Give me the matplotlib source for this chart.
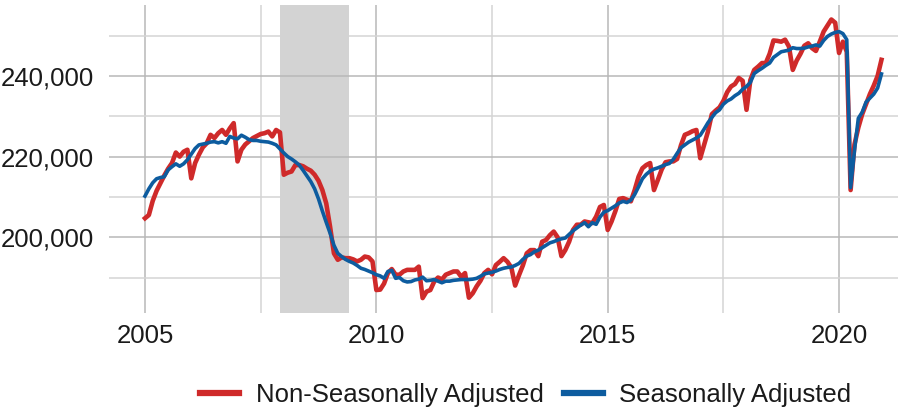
import matplotlib

matplotlib.use("Agg")
import matplotlib.pyplot as plt
import numpy as np
from matplotlib.ticker import FixedLocator, FuncFormatter

# monthly values, Jan 2005 .. Dec 2020 (thousands)
nsa = [
    204.7, 205.5, 209.0, 211.5, 213.4, 215.3, 217.0, 218.4, 221.0, 220.0, 221.2, 221.7,  # 2005
    214.6, 218.4, 220.5, 222.3, 223.3, 225.4, 224.6, 225.8, 226.6, 225.4, 227.0, 228.3,  # 2006
    218.8, 221.7, 223.0, 223.8, 224.6, 225.1, 225.6, 225.8, 226.2, 225.0, 226.6, 226.0,  # 2007
    215.5, 216.0, 216.3, 217.9, 217.9, 217.6, 217.0, 216.5, 215.5, 214.0, 211.7, 208.4,  # 2008
    202.6, 196.0, 194.4, 195.0, 194.8, 194.8, 194.5, 194.0, 194.4, 195.2, 195.0, 194.0,  # 2009
    186.9, 187.0, 188.5, 191.1, 192.1, 190.7, 190.7, 191.5, 191.9, 191.9, 191.9, 192.7,  # 2010
    184.9, 186.5, 186.9, 189.0, 190.0, 189.5, 190.7, 191.1, 191.5, 191.5, 190.2, 191.1,  # 2011
    185.0, 186.1, 187.8, 189.2, 191.1, 191.9, 190.8, 193.1, 193.9, 194.8, 193.9, 192.5,  # 2012
    188.0, 190.6, 193.0, 196.0, 196.8, 196.8, 195.3, 198.9, 199.3, 200.5, 201.4, 200.0,  # 2013
    195.3, 196.8, 198.9, 201.8, 203.1, 203.1, 203.9, 203.7, 203.5, 205.1, 207.5, 208.0,  # 2014
    201.8, 203.9, 206.5, 209.5, 209.7, 209.3, 208.9, 211.7, 215.0, 217.1, 217.9, 218.4,  # 2015
    211.7, 214.2, 216.8, 218.6, 218.8, 218.8, 219.4, 222.8, 225.4, 225.8, 226.3, 226.6,  # 2016
    219.6, 222.9, 226.2, 230.5, 231.4, 232.2, 233.8, 236.0, 237.4, 238.0, 239.5, 238.8,  # 2017
    231.6, 239.0, 241.5, 242.3, 243.2, 243.2, 245.5, 248.8, 248.7, 248.5, 249.0, 247.3,  # 2018
    241.5, 243.8, 245.5, 247.5, 248.1, 246.9, 246.2, 248.5, 251.0, 252.5, 254.0, 253.2,  # 2019
    245.7, 248.5, 246.0, 211.7, 223.0, 227.2, 230.5, 233.0, 235.5, 237.6, 240.0, 244.0,  # 2020
]
sa = [
    210.2, 212.0, 213.5, 214.5, 214.8, 215.0, 216.7, 217.5, 218.2, 217.6, 218.2, 219.2,  # 2005
    220.6, 222.0, 222.9, 223.1, 223.3, 223.6, 223.7, 223.4, 223.7, 223.3, 225.0, 224.6,  # 2006
    224.4, 225.3, 224.8, 224.2, 224.0, 224.0, 223.8, 223.7, 223.6, 223.3, 222.9, 221.9,  # 2007
    220.9, 220.0, 219.4, 218.7, 217.9, 216.6, 215.2, 213.8, 212.0, 209.5, 206.5, 203.7,  # 2008
    201.0, 198.0, 196.0, 195.2, 194.5, 194.0, 193.6, 193.0, 192.3, 192.0, 191.6, 191.2,  # 2009
    190.7, 190.4, 189.8, 191.5, 191.8, 189.8, 190.0, 189.2, 188.9, 189.0, 189.4, 189.6,  # 2010
    190.1, 189.2, 189.3, 189.5, 189.1, 188.7, 189.1, 189.1, 189.3, 189.4, 189.5, 189.5,  # 2011
    189.5, 189.6, 189.8, 190.3, 190.9, 191.1, 191.3, 191.6, 192.0, 192.3, 192.5, 192.6,  # 2012
    193.0, 193.5, 194.5, 195.3, 195.7, 196.4, 196.8, 197.4, 198.0, 198.6, 198.9, 199.3,  # 2013
    199.6, 199.8, 200.7, 201.6, 202.3, 203.0, 203.6, 202.6, 203.6, 203.2, 205.0, 206.2,  # 2014
    206.6, 207.2, 207.8, 208.5, 208.9, 208.6, 209.2, 210.6, 212.5, 214.5, 215.6, 216.4,  # 2015
    216.9, 217.2, 217.6, 218.0, 218.3, 219.3, 220.8, 222.2, 222.9, 223.6, 224.1, 224.6,  # 2016
    225.3, 226.8, 228.4, 229.7, 230.9, 231.6, 233.0, 233.8, 234.3, 235.1, 235.7, 236.7,  # 2017
    237.4, 238.4, 240.6, 241.3, 241.9, 242.6, 243.2, 244.6, 245.3, 246.0, 246.2, 246.4,  # 2018
    247.0, 246.8, 246.8, 246.9, 247.2, 247.4, 247.7, 247.4, 248.8, 249.8, 250.4, 250.8,  # 2019
    251.0, 250.5, 249.0, 212.3, 221.5, 229.5, 231.0, 233.5, 234.5, 235.5, 237.0, 240.5,  # 2020
]
start_year = 2005
recession = (2007 + 11 / 12, 2009 + 5 / 12)  # Dec 2007 - Jun 2009
y_major = [200000, 220000, 240000]
y_minor = [190000, 210000, 230000, 250000]
x_major = [2005, 2010, 2015, 2020]
x_minor = [2007.5, 2012.5, 2017.5]

RED = "#cf2a2a"
BLUE = "#0d5c9f"

t = start_year + np.arange(len(nsa)) / 12.0
nsa_v = np.asarray(nsa) * 1000
sa_v = np.asarray(sa) * 1000

plt.rcParams["font.family"] = ["Liberation Sans", "DejaVu Sans"]
fig = plt.figure(figsize=(9.09, 4.13), dpi=100)
ax = fig.add_axes([109 / 909, 1 - 313 / 413, (898 - 109) / 909, 308 / 413])

ax.axvspan(*recession, color="#d3d3d3", lw=0, zorder=0.2)
ax.plot(t, nsa_v, color=RED, lw=3.3, solid_joinstyle="round", zorder=3,
        label="Non-Seasonally Adjusted")
ax.plot(t, sa_v, color=BLUE, lw=2.6, solid_joinstyle="round", zorder=4,
        label="Seasonally Adjusted")

ax.set_xlim(2004.222, 2021.274)
ax.set_ylim(181200, 257600)
ax.xaxis.set_major_locator(FixedLocator(x_major))
ax.xaxis.set_minor_locator(FixedLocator(x_minor))
ax.yaxis.set_major_locator(FixedLocator(y_major))
ax.yaxis.set_minor_locator(FixedLocator(y_minor))
ax.yaxis.set_major_formatter(FuncFormatter(lambda v, _: f"{v:,.0f}"))
ax.xaxis.set_major_formatter(FuncFormatter(lambda v, _: f"{v:.0f}"))

ax.set_axisbelow(True)
ax.grid(which="major", color="#b8b8b8", lw=1.1)
ax.grid(which="minor", color="#d4d4d4", lw=1.1)
for s in ax.spines.values():
    s.set_visible(False)
ax.tick_params(which="both", length=0, labelsize=18.5, labelcolor="#1a1a1a")
ax.tick_params(axis="y", pad=11)
ax.tick_params(axis="x", pad=8)

h, l = ax.get_legend_handles_labels()
leg = fig.legend(h, l, loc="center", bbox_to_anchor=(526 / 909, 1 - 395 / 413),
                 ncol=2, frameon=False, fontsize=18.5, handlelength=1.5,
                 handletextpad=0.65, columnspacing=0.8)
for line in leg.get_lines():
    line.set_linewidth(4.5)
for txt in leg.get_texts():
    txt.set_color("#1a1a1a")

fig.savefig("out.png", dpi=100)
